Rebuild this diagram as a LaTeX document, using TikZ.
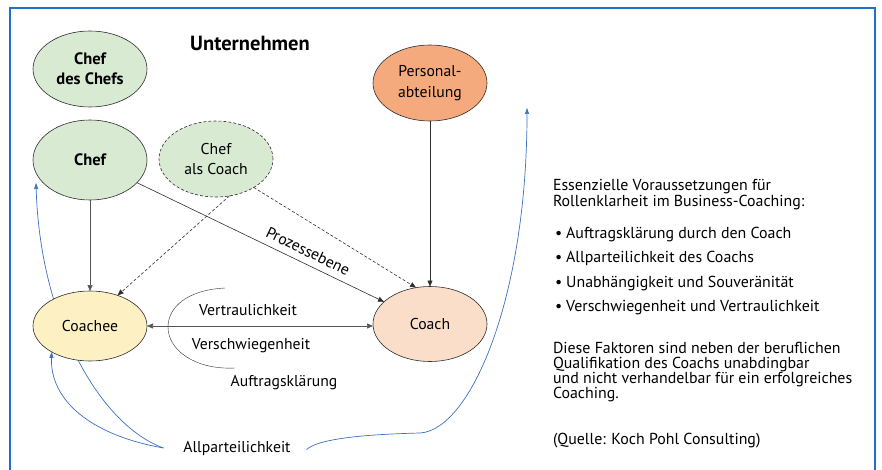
\documentclass[tikz,border=0pt]{standalone}
\usepackage{fontspec}
\setmainfont{PT Sans}
\usetikzlibrary{arrows.meta,shapes.geometric,backgrounds}
\definecolor{framebl}{RGB}{30,112,200}
\definecolor{curvebl}{RGB}{62,112,192}
\definecolor{greenf}{RGB}{217,234,211}
\definecolor{orangef}{RGB}{244,170,125}
\definecolor{yellowf}{RGB}{253,240,195}
\definecolor{peachf}{RGB}{250,222,202}
\definecolor{linec}{RGB}{45,45,45}
\definecolor{vlinec}{RGB}{85,85,85}
\begin{document}
\begin{tikzpicture}[x=1pt,y=-1pt,
  every node/.style={inner sep=0pt, outer sep=0pt},
  role/.style={ellipse, draw=linec, line width=0.6pt, minimum width=114pt, minimum height=76pt, align=center, font=\fontsize{15.7}{20.5}\selectfont},
  rolebold/.style={role, font=\fontsize{16.5}{20}\selectfont\bfseries},
  conn/.style={draw=linec, line width=0.6pt, -{Triangle[length=6pt,width=5pt]}},
  dconn/.style={conn, dash pattern=on 3pt off 2pt},
  bluearrow/.style={draw=curvebl, line width=0.7pt, -{Triangle[length=6pt,width=4pt]}},
  lab/.style={font=\fontsize{15.7}{18}\selectfont, anchor=base},
  side/.style={font=\fontsize{15.9}{15}\selectfont, anchor=base west},
  arcline/.style={draw=linec, line width=0.4pt},
]
\useasboundingbox (0,0) rectangle (882,470);
% frame
\draw[framebl, line width=1.3pt] (10,471) -- (10,8) -- (875,8) -- (875,471);

% title
\node[font=\fontsize{20.5}{22}\selectfont\bfseries] (title) at (250,43) {Unternehmen};

% role nodes
\node[rolebold, fill=greenf] (cdc) at (90,69) {Chef\\des Chefs};
\node[rolebold, fill=greenf, minimum height=80pt] (chef) at (90,160) {Chef};
\node[role, fill=greenf, dash pattern=on 3pt off 2pt] (cac) at (216,159) {Chef\\als Coach};
\node[role, fill=orangef] (pers) at (430,83) {Personal-\\abteilung};
\node[role, fill=yellowf, minimum height=70pt] (coachee) at (90,326) {Coachee};
\node[role, fill=peachf, minimum height=75pt] (coach) at (430,324) {Coach};

% connectors
\draw[conn, draw=vlinec] (chef.south) -- (coachee.north);
\draw[dconn] (cac.290) -- (coachee.48);
\draw[conn] (chef) -- node[sloped, pos=0.67, above=7pt, font=\fontsize{15.7}{18}\selectfont] (proz) {Prozessebene} (coach);
\draw[dconn] (cac.323) -- (coach.111);
\draw[conn] (pers.south) -- (coach.north);
\draw[conn, draw=vlinec, {Triangle[length=6pt,width=5pt]}-{Triangle[length=6pt,width=5pt]}] (coachee.east) -- (coachee.east -| coach.west);

% arc with three labels
\coordinate (arcA) at (225,288);
\coordinate (arcL) at (168,327);
\coordinate (arcB) at (235,368);
\draw[arcline] (arcA) .. controls (186,290) and (168,308) .. (arcL) .. controls (168,350) and (195,370) .. (arcB);
\node[lab] (vert) at (248,315) {Vertraulichkeit};
\node[lab] (versch) at (251,349) {Verschwiegenheit};
\node[lab] (auftr) at (284,386) {Auftragsklärung};

% Allparteilichkeit
\node[lab] (allp) at (237,452) {Allparteilichkeit};
\coordinate (aw) at ([xshift=-20pt]allp.west);
\coordinate (ae) at ([xshift=16pt,yshift=-1.5pt]allp.east);
\coordinate (chefin) at (36,183);
\coordinate (ctip) at (527,108);
\begin{scope}[on background layer]
\draw[bluearrow] (aw) .. controls (100,425) and (40,320) .. (chefin);
\end{scope}
\draw[bluearrow] (aw) .. controls (90,435) and (50,400) .. (coachee.214);
\draw[bluearrow] (ae) .. controls (320,437) and (380,434) .. (420,433) .. controls (470,430) and (527,300) .. (ctip);

% right text
\node[side] (s1) at (553,191) {Essenzielle Voraussetzungen für};
\node[side] (s2) at (553,207) {Rollenklarheit im Business-Coaching:};
\node[side] (b1) at (555,238) {•\hspace{4pt}Auftragsklärung durch den Coach};
\node[side] (b2) at (555,262) {•\hspace{4pt}Allparteilichkeit des Coachs};
\node[side] (b3) at (555,287) {•\hspace{4pt}Unabhängigkeit und Souveränität};
\node[side] (b4) at (555,311) {•\hspace{4pt}Verschwiegenheit und Vertraulichkeit};
\node[side] (p1) at (553,353) {Diese Faktoren sind neben der beruflichen};
\node[side] (p2) at (553,368) {Qualifikation des Coachs unabdingbar};
\node[side] (p3) at (553,383) {und nicht verhandelbar für ein erfolgreiches};
\node[side] (p4) at (553,398) {Coaching.};
\node[side] (q1) at (553,444) {(Quelle: Koch Pohl Consulting)};
\end{tikzpicture}
\end{document}
